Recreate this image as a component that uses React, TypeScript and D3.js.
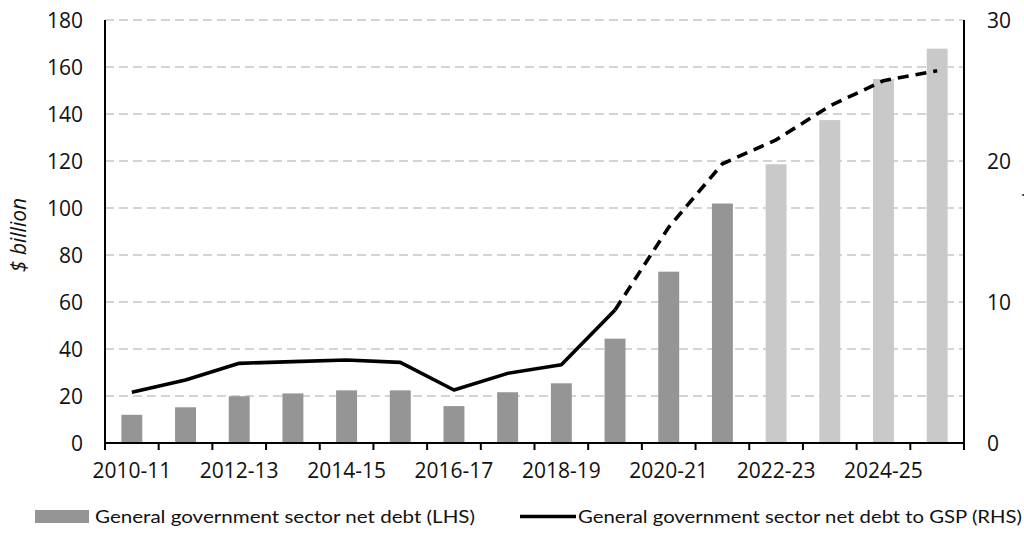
import React from "react";
import * as d3 from "d3";

const categories = [
  "2010-11", "2011-12", "2012-13", "2013-14", "2014-15", "2015-16", "2016-17", "2017-18",
  "2018-19", "2019-20", "2020-21", "2021-22", "2022-23", "2023-24", "2024-25", "2025-26",
];
const netDebt = [12, 15.2, 19.9, 21.1, 22.4, 22.4, 15.7, 21.6, 25.4, 44.4, 72.9, 101.9, 118.6, 137.4, 154.9, 167.8];
const debtToGsp = [3.6, 4.47, 5.65, 5.77, 5.89, 5.72, 3.76, 4.94, 5.55, 9.43, 15.3, 19.8, 21.5, 23.9, 25.7, 26.4];
const actualCount = 12; // bars up to 2021-22 are actual (darker)
const solidLineEnd = 9; // solid line up to 2019-20, dashed afterwards
const leftTicks = [0, 20, 40, 60, 80, 100, 120, 140, 160, 180];
const rightTicks = [0, 10, 20, 30];
const legendLabels = [
  "General government sector net debt (LHS)",
  "General government sector net debt to GSP (RHS)",
];

const W = 1024;
const H = 536;
const m = { left: 105, right: 964, top: 20, bottom: 443 };
const FONT = "'Open Sans', 'DejaVu Sans', sans-serif";

export default function App() {
  const x = d3.scaleBand<string>().domain(categories).range([m.left, m.right]).paddingInner(0.61).paddingOuter(0.305);
  const yL = d3.scaleLinear().domain([0, 180]).range([m.bottom, m.top]);
  const yR = d3.scaleLinear().domain([0, 30]).range([m.bottom, m.top]);
  const step = x.step();
  const cx = (c: string) => (x(c) as number) + x.bandwidth() / 2;

  const line = d3
    .line<number>()
    .x((_, i) => 0)
    .y((d) => yR(d));
  const pts = debtToGsp.map((v, i) => [cx(categories[i]), yR(v)] as [number, number]);
  const lineGen = d3.line<[number, number]>().x((d) => d[0]).y((d) => d[1]);
  const solidPath = lineGen(pts.slice(0, solidLineEnd + 1)) || "";
  const dashedPath = lineGen(pts.slice(solidLineEnd)) || "";
  void line;

  const boundaries = d3.range(categories.length + 1).map((i) => m.left + i * step);

  return (
    <svg width={W} height={H} style={{ position: "absolute", left: 0, top: 0, background: "#fff" }}>
      {/* gridlines */}
      {leftTicks.filter((t) => t > 0).map((t) => (
        <line key={t} x1={m.left} x2={m.right} y1={yL(t)} y2={yL(t)} stroke="#c6c6c6" strokeWidth={1.6} strokeDasharray="9,5" />
      ))}
      {/* bars */}
      {netDebt.map((v, i) => (
        <rect
          key={categories[i]}
          x={x(categories[i])}
          y={yL(v)}
          width={x.bandwidth()}
          height={yL(0) - yL(v)}
          fill={i < actualCount ? "#959595" : "#c9c9c9"}
        />
      ))}
      {/* line */}
      <path d={solidPath} fill="none" stroke="#000" strokeWidth={3.6} strokeLinejoin="round" />
      <path d={dashedPath} fill="none" stroke="#000" strokeWidth={3.6} strokeDasharray="11,7" />
      {/* axes */}
      <line x1={m.left} x2={m.left} y1={m.top} y2={m.bottom + 7} stroke="#000" strokeWidth={2} />
      <line x1={m.right} x2={m.right} y1={m.top} y2={m.bottom + 7} stroke="#000" strokeWidth={2} />
      <line x1={m.left} x2={m.right} y1={m.bottom} y2={m.bottom} stroke="#000" strokeWidth={2} />
      {boundaries.map((b, i) => (
        <line key={i} x1={b} x2={b} y1={m.bottom} y2={m.bottom + 7} stroke="#000" strokeWidth={2} />
      ))}
      {/* left tick labels */}
      {leftTicks.map((t) => (
        <text key={t} x={83} y={yL(t)} dy="0.36em" textAnchor="end" fontFamily={FONT} fontSize={21} fill="#111">
          {t}
        </text>
      ))}
      {/* right tick labels */}
      {rightTicks.map((t) => (
        <text key={t} x={987} y={yR(t)} dy="0.36em" textAnchor="start" fontFamily={FONT} fontSize={21} fill="#111">
          {t}
        </text>
      ))}
      {/* x labels */}
      {categories.map((c, i) =>
        i % 2 === 0 ? (
          <text key={c} x={cx(c)} y={478} textAnchor="middle" fontFamily={FONT} fontSize={21} fill="#111">
            {c}
          </text>
        ) : null
      )}
      {/* axis titles */}
      <text transform={`translate(26,235) rotate(-90)`} textAnchor="middle" fontFamily={FONT} fontSize={21} fontStyle="italic" fill="#111">
        $ billion
      </text>
      <text transform={`translate(1037,231) rotate(-90)`} textAnchor="middle" fontFamily={FONT} fontSize={21} fill="#111">
        per cent
      </text>
      {/* legend */}
      <rect x={35} y={510} width={54} height={13} fill="#959595" />
      <text x={95} y={523} fontFamily="Lato, 'Open Sans', sans-serif" fontSize={18} fill="#111" textLength={380} lengthAdjust="spacingAndGlyphs">
        {legendLabels[0]}
      </text>
      <line x1={520} x2={576} y1={516.5} y2={516.5} stroke="#000" strokeWidth={3.6} />
      <text x={578} y={523} fontFamily="Lato, 'Open Sans', sans-serif" fontSize={18} fill="#111" textLength={444} lengthAdjust="spacingAndGlyphs">
        {legendLabels[1]}
      </text>
    </svg>
  );
}
